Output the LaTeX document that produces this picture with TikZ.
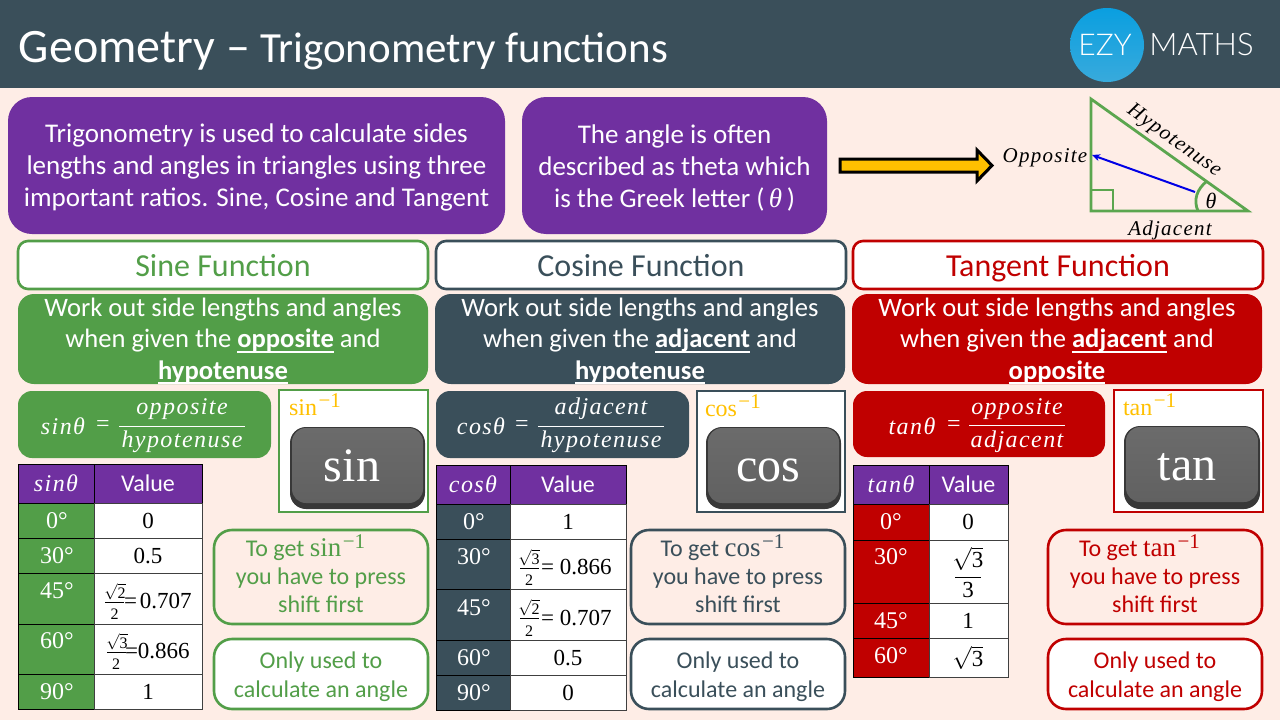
\documentclass[tikz,border=0pt]{standalone}
\usepackage{fix-cm}
\usepackage{fontspec}
\usetikzlibrary{arrows.meta,calc}
\setmainfont{Carlito}
\newfontfamily\serf[UprightFont=*,ItalicFont=* Italic]{Liberation Serif}
\newfontfamily\serfw[LetterSpace=6,UprightFont=*,ItalicFont=* Italic]{Liberation Serif}
\newfontfamily\lato{Lato Light}
\definecolor{bgc}{HTML}{FEEDE6}
\definecolor{slate}{HTML}{3A4F5A}
\definecolor{grn}{HTML}{529E48}
\definecolor{rd}{HTML}{C00000}
\definecolor{pur}{HTML}{7030A0}
\definecolor{gold}{HTML}{FFC000}
\definecolor{tri}{HTML}{5BA64F}
\definecolor{logoa}{HTML}{0A9FE0}
\definecolor{logob}{HTML}{38AADC}
\newcommand\fs[2]{\fontsize{#1}{#2}\selectfont}
\newcommand\bul[1]{\sbox0{\textbf{#1}}\rlap{\rule[-5pt]{\wd0}{2pt}}\usebox{0}}
\newcommand\invf[2][24]{{\fs{#1}{#1}\serf #2\kern1.5pt\raisebox{8pt}{\fs{21}{21}\serf −1}}}
\newcommand\bx[7]{\pgfmathsetmacro\bw{#5-#3}\pgfmathsetmacro\bh{#6-#4}%
  \node[#1,minimum width=\bw pt,minimum height=\bh pt] (#2) at ({(#3+#5)/2},{(#4+#6)/2}) {};}
% box plus its text, the text lifted or lowered by dy
\newcommand\bt[8]{\bx{#1}{#2}{#3}{#4}{#5}{#6}{}%
  \node[#1,draw=none,fill=none] (#2t) at ($(#2.center)+(0,#7)$) {#8};}
\newcommand\rt[1]{$\sqrt{\mbox{\serf #1}}$}
\tikzset{
  base/.style={inner sep=0pt,outer sep=0pt,align=center},
  purplebox/.style={base,fill=pur,rounded corners=24pt,text=white,font=\fs{27}{32}},
  headbox/.style={base,fill=white,draw=#1,line width=2.6pt,rounded corners=10pt,text=#1,font=\fs{32}{32}},
  descbox/.style={base,fill=#1,rounded corners=16pt,text=white,font=\fs{26.6}{31.5}},
  formbox/.style={base,fill=#1,rounded corners=14pt},
  keyframe/.style={base,fill=white,draw=#1,line width=2pt},
  keybody/.style={base,fill=black!78,rounded corners=16pt},
  keyface/.style={base,top color=black!58,bottom color=black!62,rounded corners=14pt},
  keytext/.style={base,anchor=base,text=white,font=\fs{48}{48}\serf},
  goldtext/.style={base,anchor=base west,text=gold},
  shiftbox/.style={base,draw=#1,line width=2.6pt,rounded corners=18pt,text=#1,font=\fs{24}{28}},
  onlybox/.style={base,fill=white,draw=#1,line width=2.6pt,rounded corners=18pt,text=#1,font=\fs{24}{29}},
  hcell/.style={base,fill=pur,draw=black,line width=1pt,text=white},
  lcell/.style={base,fill=#1,draw=black,line width=1pt},
  vcell/.style={base,fill=white,draw=black!75,line width=1pt},
  lt/.style={base,text=white,font=\fs{24}{24}\serf},
  vt/.style={base,text=black,font=\fs{23}{23}\serf},
  ft/.style={base,text=white,font=\fs{24}{24}\serfw\itshape},
  st/.style={base,text=black,font=\fs{16}{16}\serf},
  triline/.style={draw=tri,line width=2.8pt},
  trilbl/.style={base,text=black,font=\fs{21}{21}\serfw\itshape},
}
\begin{document}
\begin{tikzpicture}[x=1pt,y=-1pt]
\useasboundingbox (0,0) rectangle (1280,720);
\fill[bgc] (0,0) rectangle (1280,720);
\fill[slate] (0,0) rectangle (1280,88);
\node[base,anchor=base west,text=white] (title) at (19,62) {\fs{48}{48}Geometry\hspace{11pt}–\hspace{10pt}\fs{43}{43}Trigonometry functions};
% logo
\shade[top color=logoa,bottom color=logob] (1107,45) circle (37);
\node[base,text=white,font=\fs{30}{30}\lato] (ezy) at (1105,45) {EZY};
\node[base,text=white,font=\fs{31}{31}\lato] (maths) at (1201.5,45) {MATHS};
% intro
\bt{purplebox}{introa}{8}{97}{505}{234}{2}{Trigonometry is used to calculate sides\\lengths and angles in triangles using three\\important ratios. Sine, Cosine and Tangent}
\bt{purplebox}{introb}{522}{97}{827}{234}{2}{The angle is often\\described as theta which\\is the Greek letter (\,{\serf\itshape θ}\,)}
% block arrow
\draw[fill=gold,draw=black,line width=3pt,miter limit=10] (840,159) -- (977,159) -- (977,150) -- (992,165.5) -- (977,181) -- (977,172) -- (840,172) -- cycle;
% triangle
\coordinate (A) at (1091,99); \coordinate (B) at (1091,211); \coordinate (C) at (1248,211);
\draw[triline,line join=miter] (A) -- (B) -- (C) -- cycle;
\draw[triline] (1091,190) -- (1113,190) -- (1113,211);
\draw[triline] (1198,211) .. controls (1193,200) and (1197,189) .. (1207,181);
\coordinate (bs) at (1195,192); \coordinate (be) at (1092,155);
\draw[blue!90!black,line width=2pt,-{Stealth[length=8pt,width=7pt]}] (bs) -- (be);
\node[trilbl] (opp) at (1045,158) {Opposite};
\node[trilbl,rotate=-35.5] (hyp) at (1174,141) {Hypotenuse};
\node[trilbl] (adj) at (1170,230) {Adjacent};
\node[base,font=\fs{22}{22}\serf\itshape] (th) at (1211,201) {θ};
% headings
\bt{headbox=grn}{hs}{18}{241}{428}{289}{3}{\vphantom{Fg}Sine Function}
\bt{headbox=slate}{hc}{436}{241}{846}{289}{3}{\vphantom{Fg}Cosine Function}
\bt{headbox=rd}{ht}{853}{241}{1263}{289}{3}{\vphantom{Fg}Tangent Function}
% descriptions
\bt{descbox=grn}{ds}{18}{294}{428}{384}{2}{Work out side lengths and angles\\when given the \bul{opposite} and\\\bul{hypotenuse}}
\bt{descbox=slate}{dc}{435}{294}{845}{384}{2}{Work out side lengths and angles\\when given the \bul{adjacent} and\\\bul{hypotenuse}}
\bt{descbox=rd}{dt}{852}{294}{1262}{384}{2}{Work out side lengths and angles\\when given the \bul{adjacent} and\\\bul{opposite}}
% formula boxes
\bx{formbox=grn}{fs}{18}{391}{271}{458}{}
\node[ft] (fsl) at (63,426) {sinθ}; \node[lt] (fse) at (103,426) {=};
\node[ft] (fsn) at (182,409) {opposite}; \node[ft] (fsd) at (182,442) {hypotenuse};
\draw[white,line width=1pt] (119,426) -- (245,426);
\bx{formbox=slate}{fc}{436}{391}{689}{458}{}
\node[ft] (fcl) at (481,426) {cosθ}; \node[lt] (fce) at (522,426) {=};
\node[ft] (fcn) at (601,409) {adjacent}; \node[ft] (fcd) at (601,442) {hypotenuse};
\draw[white,line width=1pt] (538,426) -- (664,426);
\bx{formbox=rd}{ft}{853}{391}{1105}{457}{}
\node[ft] (ftl) at (912,426) {tanθ}; \node[lt] (fte) at (954,426) {=};
\node[ft] (ftn) at (1017,409) {opposite}; \node[ft] (ftd) at (1017,442) {adjacent};
\draw[white,line width=1pt] (969,425.5) -- (1065,425.5);
% key frames
\bx{keyframe=grn}{ks}{279}{390}{428}{512}{}
\node[goldtext] (ksl) at (289,415) {\invf{sin}};
\bx{keybody}{ksb}{290}{427}{425}{509}{}
\bx{keyface}{ksf}{292}{428}{423}{503}{}
\node[keytext] (kst) at (352,481) {sin};
\bx{keyframe=slate}{kc}{697}{391}{845}{512}{}
\node[goldtext] (kcl) at (705,416) {\invf{cos}};
\bx{keybody}{kcb}{706}{427}{841}{509}{}
\bx{keyface}{kcf}{708}{428}{839}{503}{}
\node[keytext] (kct) at (768,481) {cos};
\bx{keyframe=rd}{kt}{1114}{390}{1263}{512}{}
\node[goldtext] (ktl) at (1123,415) {\invf{tan}};
\bx{keybody}{ktb}{1124}{426}{1260}{509}{}
\bx{keyface}{ktf}{1126}{427}{1258}{502}{}
\node[keytext] (ktt) at (1187,480) {tan};
% shift boxes
\bt{shiftbox=grn}{ss}{214}{530}{428}{624}{-3}{\hspace*{-31pt}To get \invf[27]{sin}\\you have to press\\shift first}
\bt{onlybox=grn}{os}{214}{639}{428}{709}{3}{Only used to\\calculate an angle}
\bt{shiftbox=slate}{sc}{631}{530}{845}{624}{-3}{\hspace*{-31pt}To get \invf[27]{cos}\\you have to press\\shift first}
\bt{onlybox=slate}{oc}{631}{639}{845}{709}{3}{Only used to\\calculate an angle}
\bt{shiftbox=rd}{st}{1048}{530}{1262}{624}{-3}{\hspace*{-31pt}To get \invf[27]{tan}\\you have to press\\shift first}
\bt{onlybox=rd}{ot}{1048}{639}{1262}{709}{3}{Only used to\\calculate an angle}
% sine table
\bt{hcell}{sh1}{18}{464}{94}{503}{0}{\fs{24}{24}\serfw\itshape sinθ}
\bt{hcell}{sh2}{94}{464}{202}{503}{0}{\fs{24}{24}Value}
\bx{lcell=grn}{sl1}{18}{503}{94}{538}{}\bx{vcell}{sv1}{94}{503}{202}{538}{}
\bx{lcell=grn}{sl2}{18}{538}{94}{573}{}\bx{vcell}{sv2}{94}{538}{202}{573}{}
\bx{lcell=grn}{sl3}{18}{573}{94}{624}{}\bx{vcell}{sv3}{94}{573}{202}{624}{}
\bx{lcell=grn}{sl4}{18}{624}{94}{674}{}\bx{vcell}{sv4}{94}{624}{202}{674}{}
\bx{lcell=grn}{sl5}{18}{674}{94}{709}{}\bx{vcell}{sv5}{94}{674}{202}{709}{}
\node[lt] (slt1) at (57,521) {0°}; \node[vt] (svt1) at (148,521) {0};
\node[lt] (slt2) at (57,556) {30°}; \node[vt] (svt2) at (148,556) {0.5};
\node[lt] (slt3) at (57,591) {45°};
\node[st] (ss3a) at (115,592) {\rt{2}}; \node[st] (ss3b) at (114.5,614) {2};
\draw[black,line width=.8pt] (105,602) -- (124,602);
\node[vt,anchor=west] (svt3) at (124,601) {=\hspace{3pt}0.707};
\node[lt] (slt4) at (57,641) {60°};
\node[st] (ss4a) at (117,642) {\rt{3}}; \node[st] (ss4b) at (116,664) {2};
\draw[black,line width=.8pt] (107,652) -- (126,652);
\node[vt,anchor=west] (svt4) at (125,651) {=0.866};
\node[lt] (slt5) at (57,692) {90°}; \node[vt] (svt5) at (148,692) {1};
% cosine table
\bt{hcell}{ch1}{436}{465}{510}{504}{0}{\fs{24}{24}\serfw\itshape cosθ}
\bt{hcell}{ch2}{510}{465}{626}{504}{0}{\fs{24}{24}Value}
\bx{lcell=slate}{cl1}{436}{504}{510}{539}{}\bx{vcell}{cv1}{510}{504}{626}{539}{}
\bx{lcell=slate}{cl2}{436}{539}{510}{589}{}\bx{vcell}{cv2}{510}{539}{626}{589}{}
\bx{lcell=slate}{cl3}{436}{589}{510}{640}{}\bx{vcell}{cv3}{510}{589}{626}{640}{}
\bx{lcell=slate}{cl4}{436}{640}{510}{675}{}\bx{vcell}{cv4}{510}{640}{626}{675}{}
\bx{lcell=slate}{cl5}{436}{675}{510}{710}{}\bx{vcell}{cv5}{510}{675}{626}{710}{}
\node[lt] (clt1) at (474,522) {0°}; \node[vt] (cvt1) at (568,522) {1};
\node[lt] (clt2) at (474,557) {30°};
\node[st] (cs2a) at (529,558) {\rt{3}}; \node[st] (cs2b) at (529,580) {2};
\draw[black,line width=.8pt] (520,568) -- (539,568);
\node[vt,anchor=west] (cvt2) at (541,567) {=\hspace{6pt}0.866};
\node[lt] (clt3) at (474,608) {45°};
\node[st] (cs3a) at (529,608) {\rt{2}}; \node[st] (cs3b) at (529,631) {2};
\draw[black,line width=.8pt] (520,618) -- (539,618);
\node[vt,anchor=west] (cvt3) at (541,618) {=\hspace{6pt}0.707};
\node[lt] (clt4) at (474,658) {60°}; \node[vt] (cvt4) at (568,658) {0.5};
\node[lt] (clt5) at (474,693) {90°}; \node[vt] (cvt5) at (568,693) {0};
% tangent table
\bt{hcell}{th1}{853}{465}{929}{504}{0}{\fs{24}{24}\serfw\itshape tanθ}
\bt{hcell}{th2}{929}{465}{1008}{504}{0}{\fs{24}{24}Value}
\bx{lcell=rd}{tl1}{853}{504}{929}{540}{}\bx{vcell}{tv1}{929}{504}{1008}{540}{}
\bx{lcell=rd}{tl2}{853}{540}{929}{603}{}\bx{vcell}{tv2}{929}{540}{1008}{603}{}
\bx{lcell=rd}{tl3}{853}{603}{929}{638}{}\bx{vcell}{tv3}{929}{603}{1008}{638}{}
\bx{lcell=rd}{tl4}{853}{638}{929}{677}{}\bx{vcell}{tv4}{929}{638}{1008}{677}{}
\node[lt] (tlt1) at (891,522) {0°}; \node[vt] (tvt1) at (968,522) {0};
\node[lt] (tlt2) at (891,557) {30°};
\node[vt] (ts2a) at (968,559) {\rt{3}}; \node[vt] (ts2b) at (968,590) {3};
\draw[black,line width=.8pt] (955,577) -- (981,577);
\node[lt] (tlt3) at (891,621) {45°}; \node[vt] (tvt3) at (968,621) {1};
\node[lt] (tlt4) at (891,656) {60°}; \node[vt] (tvt4) at (968,658) {\rt{3}};
\end{tikzpicture}
\end{document}
